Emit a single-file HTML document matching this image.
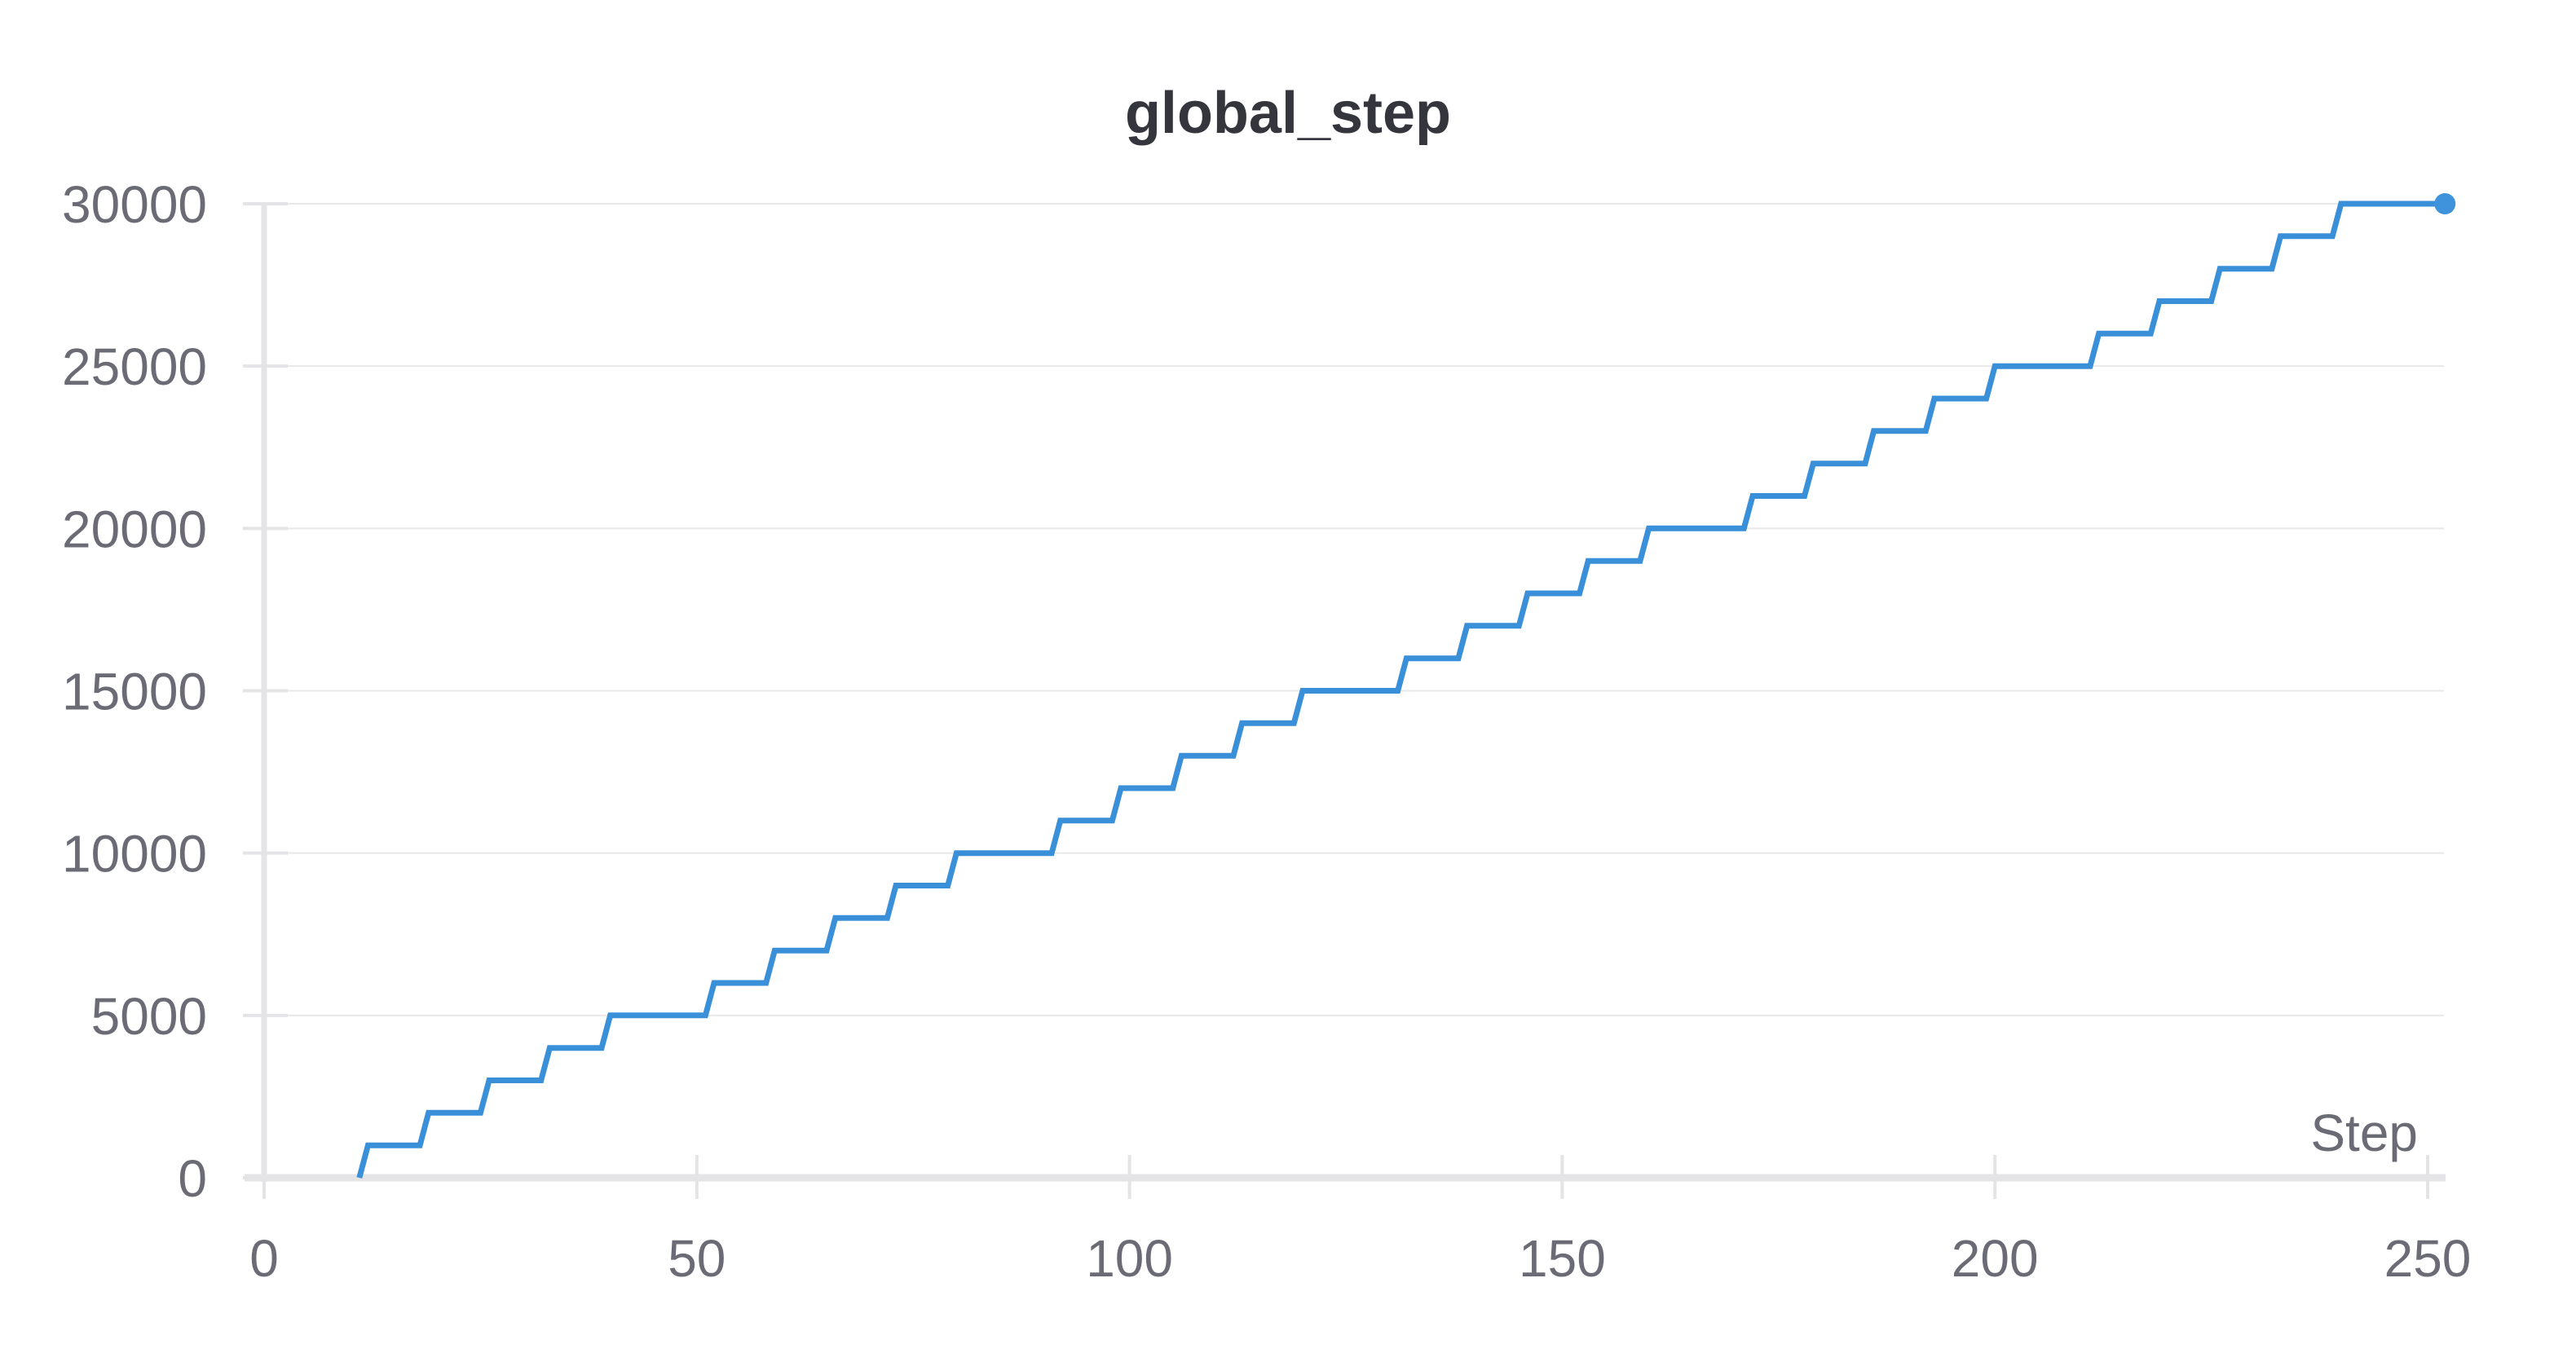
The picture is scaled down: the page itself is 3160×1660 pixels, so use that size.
<!DOCTYPE html>
<html><head><meta charset="utf-8"><style>
html,body{margin:0;padding:0;background:#fff;}
svg{display:block;font-family:"Liberation Sans",sans-serif;}
</style></head><body>
<svg id="chart" width="3160" height="1660" viewBox="0 0 3160 1660" xmlns="http://www.w3.org/2000/svg">
<text x="1580" y="163" text-anchor="middle" font-size="72" font-weight="bold" fill="#35353d">global_step</text>
<g id="grid"></g>
<g id="axes"></g>
<g id="series"></g>
<text x="2966" y="1412" text-anchor="end" font-size="64" fill="#6b6b76">Step</text>
</svg>
<script>
const xTicks = [0, 50, 100, 150, 200, 250];
const yTicks = [0, 5000, 10000, 15000, 20000, 25000, 30000];
const yTickLabels = ["0", "5000", "10000", "15000", "20000", "25000", "30000"];
const riseSteps = [11,18,25,32,39,51,58,65,72,79,91,98,105,112,119,131,138,145,152,159,171,178,185,192,199,211,218,225,232,239];
const riseValues = [1000,2000,3000,4000,5000,6000,7000,8000,9000,10000,11000,12000,13000,14000,15000,16000,17000,18000,19000,20000,21000,22000,23000,24000,25000,26000,27000,28000,29000,30000];
const lastStep = 252;

const NS = "http://www.w3.org/2000/svg";
const X0 = 324, X1 = 2978, Y0 = 1445, Y1 = 250;
function xs(v){ return X0 + (v - 0) / 250 * (X1 - X0); }
function ys(v){ return Y0 - (v - 0) / 30000 * (Y0 - Y1); }
function mk(tag, attrs, parent){ const e = document.createElementNS(NS, tag); for (const k in attrs) e.setAttribute(k, attrs[k]); parent.appendChild(e); return e; }

const grid = document.getElementById('grid');
const axes = document.getElementById('axes');
const series = document.getElementById('series');

yTicks.forEach((t, i) => {
  if (t !== 0) {
    const g = mk('line', {x1: X0, x2: 2998, y1: ys(t), y2: ys(t), stroke: '#e8e8ea', 'stroke-width': 2}, grid);
    
    
  }
  const tk = mk('line', {x1: 298, x2: 353, y1: ys(t), y2: ys(t), stroke: '#e4e4e7', 'stroke-width': 4}, axes);
  
  
  const lb = mk('text', {x: 254, y: ys(t) + 23, 'text-anchor': 'end', 'font-size': 64, fill: '#6b6b76'}, axes);
  lb.textContent = yTickLabels[i];
  
  
});

const yaxis = mk('line', {x1: X0, x2: X0, y1: 250, y2: 1450, stroke: '#e4e4e7', 'stroke-width': 7}, axes);


const xaxis = mk('line', {x1: 300, x2: 3000, y1: Y0, y2: Y0, stroke: '#e4e4e7', 'stroke-width': 9}, axes);



xTicks.forEach(t => {
  const tk = mk('line', {x1: xs(t), x2: xs(t), y1: 1417, y2: 1471, stroke: '#e4e4e7', 'stroke-width': 4}, axes);
  
  
  const lb = mk('text', {x: xs(t), y: 1566, 'text-anchor': 'middle', 'font-size': 64, fill: '#6b6b76'}, axes);
  lb.textContent = String(t);
  
  
});

let pts = [];
let prev = 0;
riseSteps.forEach((s, i) => {
  pts.push([s, prev]);
  pts.push([s + 1, riseValues[i]]);
  prev = riseValues[i];
});
pts.push([lastStep, prev]);
const d = pts.map((p, i) => (i ? 'L' : 'M') + xs(p[0]).toFixed(1) + ',' + ys(p[1]).toFixed(1)).join(' ');
const line = mk('path', {d: d, fill: 'none', stroke: '#3a8fd9', 'stroke-width': 7, 'stroke-linejoin': 'miter'}, series);


const last = pts[pts.length - 1];
const dot = mk('circle', {cx: xs(last[0]), cy: ys(last[1]), r: 13, fill: '#3f93dc'}, series);


</script>
</body></html>
